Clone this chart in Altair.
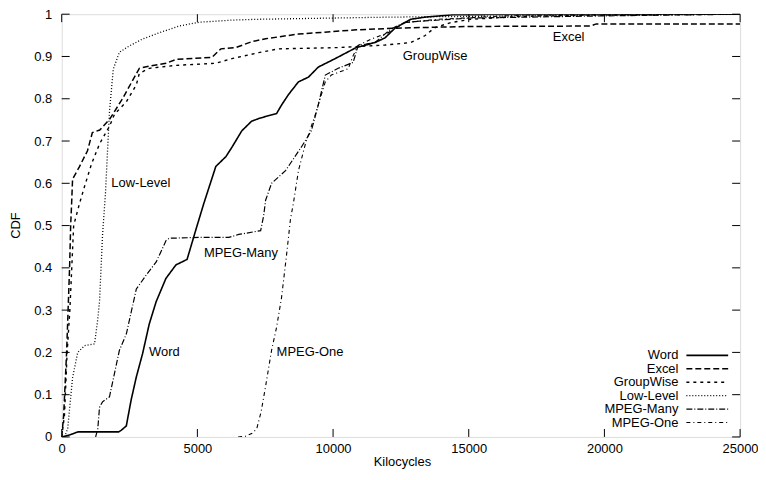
import altair as alt
import pandas as pd

series = ["Word", "Excel", "GroupWise", "Low-Level", "MPEG-Many", "MPEG-One"]

word_x = [0, 300, 600, 2100, 2200, 2380, 2560, 2750, 2980, 3225, 3480, 3840, 4210, 4620, 4990, 5240, 5680, 6050, 6280, 6635, 7000, 7258, 7514, 7918, 8100, 8358, 8724, 9090, 9457, 10080, 10850, 11546, 11913, 12280, 12867, 13380, 14500, 25000]
word_y = [0, 0.005, 0.012, 0.012, 0.016, 0.026, 0.088, 0.142, 0.197, 0.267, 0.32, 0.375, 0.407, 0.42, 0.5, 0.553, 0.64, 0.663, 0.686, 0.724, 0.747, 0.753, 0.758, 0.765, 0.785, 0.81, 0.84, 0.851, 0.875, 0.895, 0.921, 0.933, 0.944, 0.967, 0.988, 0.993, 0.999, 1.0]

excel_x = [0, 70, 180, 290, 330, 370, 400, 660, 950, 1130, 1400, 1760, 2240, 2860, 3225, 3850, 4215, 5535, 5865, 6415, 7000, 7515, 8724, 10850, 12317, 15000, 19500, 19700, 25000]
excel_y = [0, 0.05, 0.2, 0.4, 0.5, 0.56, 0.61, 0.64, 0.677, 0.72, 0.726, 0.751, 0.80, 0.872, 0.877, 0.884, 0.893, 0.898, 0.918, 0.921, 0.935, 0.942, 0.953, 0.963, 0.967, 0.971, 0.972, 0.977, 0.977]

groupwise_x = [0, 100, 200, 300, 370, 440, 660, 843, 1100, 1393, 1760, 1943, 2383, 2750, 2860, 3225, 4215, 5680, 6270, 7258, 7990, 10190, 11913, 12867, 13380, 13746, 14333, 15067, 17000, 20000, 25000]
groupwise_y = [0, 0.05, 0.2, 0.3, 0.4, 0.5, 0.553, 0.593, 0.646, 0.693, 0.735, 0.763, 0.793, 0.833, 0.86, 0.872, 0.879, 0.884, 0.895, 0.909, 0.918, 0.921, 0.927, 0.933, 0.949, 0.968, 0.98, 0.988, 0.995, 0.998, 1.0]

lowlevel_x = [0, 110, 220, 400, 590, 843, 1210, 1320, 1393, 1450, 1503, 1613, 1760, 1900, 2126, 2493, 2970, 3592, 4326, 5060, 6270, 7258, 12000, 20000, 25000]
lowlevel_y = [0, 0, 0.02, 0.14, 0.2, 0.216, 0.22, 0.274, 0.32, 0.4, 0.476, 0.577, 0.77, 0.87, 0.91, 0.925, 0.941, 0.956, 0.972, 0.981, 0.986, 0.988, 0.993, 0.998, 1.0]

mpegmany_x = [1250, 1330, 1393, 1503, 1760, 1943, 2126, 2383, 2566, 2750, 3115, 3482, 3849, 3960, 5060, 6158, 6525, 7331, 7441, 7514, 7734, 8248, 8834, 9200, 9457, 9714, 10190, 10740, 10924, 11546, 12133, 12647, 13380, 15067, 20000, 25000]
mpegmany_y = [0, 0.02, 0.07, 0.083, 0.095, 0.15, 0.205, 0.244, 0.297, 0.35, 0.383, 0.414, 0.465, 0.47, 0.472, 0.472, 0.479, 0.488, 0.523, 0.56, 0.6, 0.63, 0.686, 0.724, 0.786, 0.856, 0.872, 0.886, 0.926, 0.933, 0.965, 0.981, 0.984, 0.991, 0.996, 1.0]

mpegone_x = [6500, 6780, 7000, 7185, 7350, 7514, 7734, 7917, 8100, 8285, 8430, 8541, 8724, 8980, 9347, 9714, 9934, 10557, 10740, 10924, 11400, 12023, 12647, 13856, 17000, 25000]
mpegone_y = [0, 0.002, 0.008, 0.019, 0.06, 0.12, 0.205, 0.259, 0.329, 0.43, 0.515, 0.554, 0.63, 0.693, 0.763, 0.84, 0.856, 0.871, 0.902, 0.926, 0.941, 0.956, 0.98, 0.988, 0.998, 1.0]

label_text = ["Low-Level", "MPEG-Many", "Word", "MPEG-One", "GroupWise", "Excel"]
label_x = [1830, 5240, 3220, 7920, 12570, 18100]
label_y = [0.6, 0.435, 0.2, 0.2, 0.9, 0.945]

x_ticks = [0, 5000, 10000, 15000, 20000, 25000]
y_ticks = [0, 0.1, 0.2, 0.3, 0.4, 0.5, 0.6, 0.7, 0.8, 0.9, 1.0]

# ---- build tables ----
all_x = [word_x, excel_x, groupwise_x, lowlevel_x, mpegmany_x, mpegone_x]
all_y = [word_y, excel_y, groupwise_y, lowlevel_y, mpegmany_y, mpegone_y]
rows = []
for name, xs, ys in zip(series, all_x, all_y):
    for a, b in zip(xs, ys):
        rows.append({"series": name, "x": a, "y": b})
df = pd.DataFrame(rows)

legend_df = pd.DataFrame({"series": series, "i": list(range(len(series)))})
labels_df = pd.DataFrame({"text": label_text, "x": label_x, "y": label_y})
xt_df = pd.DataFrame({"x": x_ticks})
yt_df = pd.DataFrame({"y": y_ticks})

W, H = 682, 425
FONT = "Liberation Sans"

xscale = alt.Scale(domain=[0, 25000], nice=False, zero=False)
yscale = alt.Scale(domain=[0, 1], nice=False)
xaxis = alt.Axis(values=x_ticks, format="d", title="Kilocycles", ticks=False, domain=False,
                 grid=False, labelPadding=6, labelFontSize=13, labelFont=FONT, labelColor="black",
                 titleFont=FONT, titleFontSize=13, titleFontWeight="normal", titleColor="black",
                 titleX=342, titleY=25, titleBaseline="middle", titleAlign="center",
                 labelFlush=False)
yaxis = alt.Axis(values=y_ticks, format=".1~f", title="CDF", ticks=False, domain=False,
                 grid=False, labelPadding=10, labelFontSize=13, labelFont=FONT, labelColor="black",
                 titleFont=FONT, titleFontSize=13, titleFontWeight="normal", titleColor="black",
                 titleX=-46, titleY=212, titleAngle=270, titleBaseline="middle", titleAlign="center",
                 labelFlush=False)

dash_scale = alt.Scale(domain=series,
                       range=[[1, 0], [6, 3], [3, 4], [1, 2], [6, 2, 1, 2], [4, 3, 1, 3]])
width_scale = alt.Scale(domain=series, range=[1.6, 1.1, 1.1, 1.0, 1.1, 1.1])

lines = alt.Chart(df).mark_line(color="black", clip=True).encode(
    x=alt.X("x:Q", scale=xscale, axis=xaxis),
    y=alt.Y("y:Q", scale=yscale, axis=yaxis),
    strokeDash=alt.StrokeDash("series:N", scale=dash_scale, legend=None),
    strokeWidth=alt.StrokeWidth("series:N", scale=width_scale, legend=None),
)

labels = alt.Chart(labels_df).mark_text(align="left", baseline="middle", font=FONT,
                                        fontSize=13, color="black").encode(
    x=alt.X("x:Q", scale=xscale, axis=xaxis),
    y=alt.Y("y:Q", scale=yscale, axis=yaxis),
    text="text:N",
)

tick_len = 8
bottom_ticks = alt.Chart(xt_df).mark_rule(color="black", strokeWidth=1).encode(
    x=alt.X("x:Q", scale=xscale, axis=xaxis), y=alt.value(H), y2=alt.value(H - tick_len))
top_ticks = alt.Chart(xt_df).mark_rule(color="black", strokeWidth=1).encode(
    x=alt.X("x:Q", scale=xscale, axis=xaxis), y=alt.value(0), y2=alt.value(tick_len))
left_ticks = alt.Chart(yt_df).mark_rule(color="black", strokeWidth=1).encode(
    y=alt.Y("y:Q", scale=yscale, axis=yaxis), x=alt.value(0), x2=alt.value(tick_len))
right_ticks = alt.Chart(yt_df).mark_rule(color="black", strokeWidth=1).encode(
    y=alt.Y("y:Q", scale=yscale, axis=yaxis), x=alt.value(W), x2=alt.value(W - tick_len))

legend_base = alt.Chart(legend_df).transform_calculate(py="343 + datum.i * 13.5")
legend_text = legend_base.mark_text(align="right", baseline="middle", font=FONT,
                                    fontSize=13, color="black").encode(
    x=alt.value(620), y=alt.Y("py:Q", scale=None, axis=None), text="series:N")
legend_rule = legend_base.mark_rule(color="black").encode(
    x=alt.value(628), x2=alt.value(670), y=alt.Y("py:Q", scale=None, axis=None),
    strokeDash=alt.StrokeDash("series:N", scale=dash_scale, legend=None),
    strokeWidth=alt.StrokeWidth("series:N", scale=width_scale, legend=None),
)

chart = alt.layer(lines, labels, bottom_ticks, top_ticks, left_ticks, right_ticks,
                  legend_text, legend_rule).properties(
    width=W, height=H,
    padding={"left": 54, "top": 5, "right": 18, "bottom": 33},
    autosize=alt.AutoSizeParams(type="none"),
).configure_view(stroke="black", strokeWidth=1.6).configure(background="white")

chart.save("out.html", embed_options={"renderer": "svg", "actions": False})
